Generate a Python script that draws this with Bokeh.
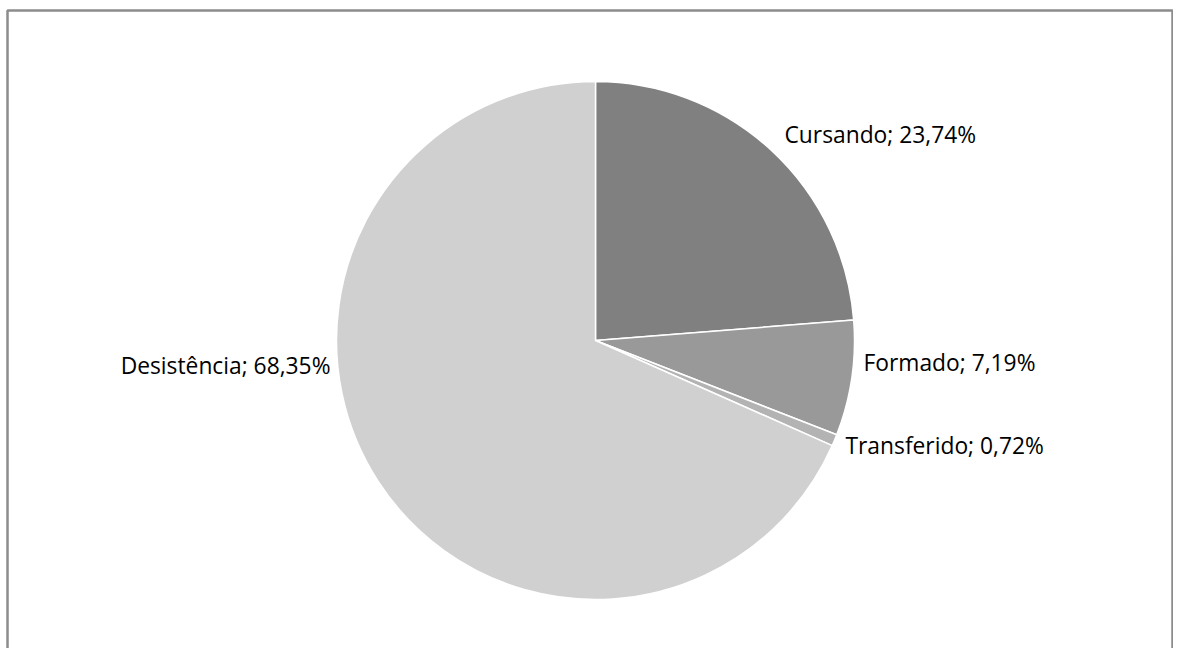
from math import pi
from bokeh.plotting import figure
from bokeh.models import Range1d, ColumnDataSource
from bokeh.core.properties import value
from bokeh.embed import file_html
from bokeh.resources import INLINE

# ---- data ----
categories = ["Cursando", "Formado", "Transferido", "Desistência"]
percentages = [23.74, 7.19, 0.72, 68.35]
colors = ["#808080", "#999999", "#b3b3b3", "#d0d0d0"]

# ---- layout (picture pixel coordinates) ----
W, H = 1173, 648
CX, CY, R = 595, 340, 259
# label anchors: x, baseline y, alignment
label_layout = [
    (784, 134, "left"),
    (863, 362, "left"),
    (845, 445, "left"),
    (330, 365, "right"),
]

def dx(x):
    return x

def dy(y):
    return H - y

p = figure(width=W, height=H, output_backend="svg", toolbar_location=None,
           x_range=Range1d(0, W), y_range=Range1d(0, H),
           min_border=0, outline_line_color=None)
p.axis.visible = False
p.grid.visible = False
p.background_fill_color = "white"
p.border_fill_color = "white"

total = sum(percentages)
starts, ends = [], []
cum = 0.0
for v in percentages:
    starts.append(pi / 2 - 2 * pi * cum / total)
    cum += v
    ends.append(pi / 2 - 2 * pi * cum / total)

src = ColumnDataSource(dict(start=starts, end=ends, color=colors))
p.wedge(x=dx(CX), y=dy(CY), radius=R, start_angle="start", end_angle="end",
        direction="clock", fill_color="color", line_color="white",
        line_width=1.5, source=src)

texts = [f"{c}; {v:.2f}%".replace(".", ",") for c, v in zip(categories, percentages)]
for t, (lx, ly, al) in zip(texts, label_layout):
    p.text(x=[dx(lx)], y=[dy(ly)], text=[t], text_font=value("Open Sans"),
           text_font_size="22.8px", text_color="#000000", text_align=al,
           text_baseline="alphabetic")

# border (left, top, right)
bc = "#8c8c8c"
p.line(x=[dx(7), dx(7), dx(W - 1), dx(W - 1)],
       y=[0, dy(10), dy(10), 0], line_color=bc, line_width=2.5)

open("out.html", "w").write(file_html(p, INLINE))
